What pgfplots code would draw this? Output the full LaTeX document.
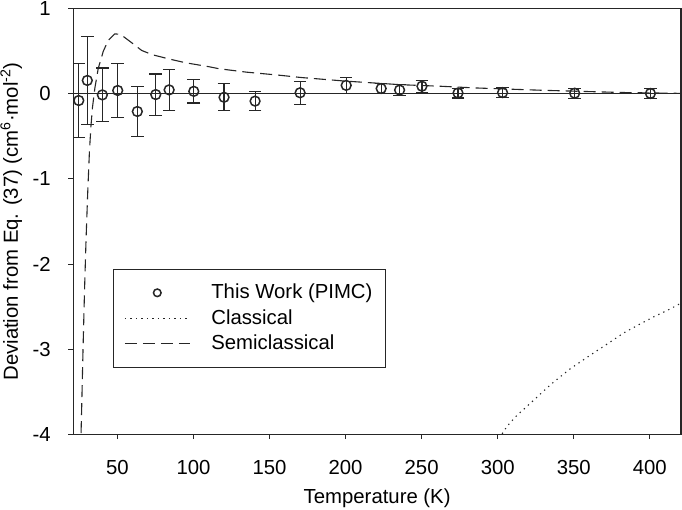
\documentclass[border=0pt]{standalone}
\usepackage{pgfplots}
\pgfplotsset{compat=1.18}
\usepackage{pgfplotstable}
\usepackage{fontspec}
\setmainfont{Liberation Sans}

\pgfplotsset{
  legline/.style={legend image code/.code={\draw[##1] (0bp,0bp) -- (65bp,0bp);}},
  legmark/.style={legend image code/.code={\path (0bp,0bp) (65bp,0bp); \draw[##1, mark size=3.8bp] plot coordinates {(32.5bp,0bp)};}},
}

\pgfplotstableread{
T D E
24.6 -0.078 0.44
30.2 0.158 0.52
40.1 -0.012 0.316
50.2 0.040 0.320
63.1 -0.207 0.297
75.2 -0.008 0.242
84.0 0.047 0.238
100.2 0.030 0.137
120.1 -0.040 0.158
140.5 -0.085 0.115
170.1 0.013 0.137
200.4 0.100 0.092
223.4 0.063 0.058
235.5 0.045 0.065
250.2 0.090 0.070
273.9 0.010 0.058
303.2 0.015 0.062
350.6 0.008 0.060
400.4 0.005 0.060
}\pimc

\pgfplotstableread{
T D
25.8 -4.2
26.5 -3.7
27.4 -3.0
28.4 -2.3
29.4 -1.7
30.5 -1.15
31.6 -0.68
32.6 -0.38
33.6 -0.16
35.2 0.07
37.4 0.30
40.7 0.50
44.0 0.63
48.2 0.705
52.0 0.70
58.0 0.62
66.0 0.51
73.0 0.46
84.0 0.41
95.0 0.365
110.0 0.32
117.0 0.295
135.0 0.255
155.0 0.222
171.0 0.192
200.0 0.150
236.0 0.108
262.0 0.090
285.0 0.070
328.0 0.043
382.0 0.016
420.5 0.006
}\semi

\pgfplotstableread{
T D
301.0 -4.05
306.0 -3.91
312.0 -3.79
320.0 -3.66
334.6 -3.42
347.0 -3.24
360.9 -3.07
372.0 -2.94
382.8 -2.81
392.0 -2.72
402.6 -2.62
412.0 -2.54
420.5 -2.46
}\classical

\begin{document}
\begin{tikzpicture}[font=\fontsize{20.4}{24}\selectfont]
\begin{axis}[
  scale only axis, width=607.7bp, height=425.4bp,
  xmin=21, xmax=420.5, ymin=-4, ymax=1,
  axis line style={line width=1.1bp, black!85},
  xtick={50,100,...,400}, ytick={-4,-3,...,1},
  tick align=outside, tick pos=left, major tick length=5bp,
  tick style={line width=1bp, black!85},
  /pgf/number format/assume math mode=true,
  xticklabel style={anchor=north, inner sep=0pt, yshift=-21bp},
  yticklabel style={anchor=east, inner sep=0pt, xshift=-17.3bp},
  xlabel={Temperature (K)},
  ylabel={Deviation from Eq. (37) (cm\textsuperscript{6}·mol\textsuperscript{-2})},
  xlabel style={at={(axis description cs:0.5,-0.1512)}, anchor=center, inner sep=0pt},
  ylabel style={at={(axis description cs:-0.102,0.5)}, anchor=center, inner sep=0pt},
  legend style={at={(axis description cs:0.0648,0.3895)}, anchor=north west,
    draw=black!85, line width=1.1bp, inner xsep=11bp, inner ysep=12.5bp,
    column sep=19bp, row sep=3bp,
    nodes={text height=15bp, text depth=3.5bp, inner sep=2bp, line width=1bp},
    font=\fontsize{20.4}{24}\selectfont},
  legend cell align=left,
]
\addplot[black!85, line width=1bp, forget plot] coordinates {(21,0) (420.5,0)};

\addplot[only marks, mark=o, mark size=4.9bp, mark options={line width=1.5bp, black!85, fill=white}, legmark,
  error bars/.cd, y dir=both, y explicit,
  error bar style={line width=1.1bp, black!85},
  error mark options={rotate=90, line width=1.1bp, black!85, mark size=6.3bp}]
  table[x=T, y=D, y error=E] {\pimc};
\addlegendentry{This Work (PIMC)}

\addplot[black!85, line width=1.1bp, dash pattern=on 1.3bp off 4.2bp, legline]
  table[x=T, y=D] {\classical};
\addlegendentry{Classical}

\addplot[black!85, line width=1.1bp, dash pattern=on 12bp off 6bp, legline]
  table[x=T, y=D] {\semi};
\addlegendentry{Semiclassical}
\end{axis}
\pgfresetboundingbox
\path[use as bounding box] (-73.3bp,-75.8bp) rectangle (608.7bp,434.2bp);
\end{tikzpicture}
\end{document}
